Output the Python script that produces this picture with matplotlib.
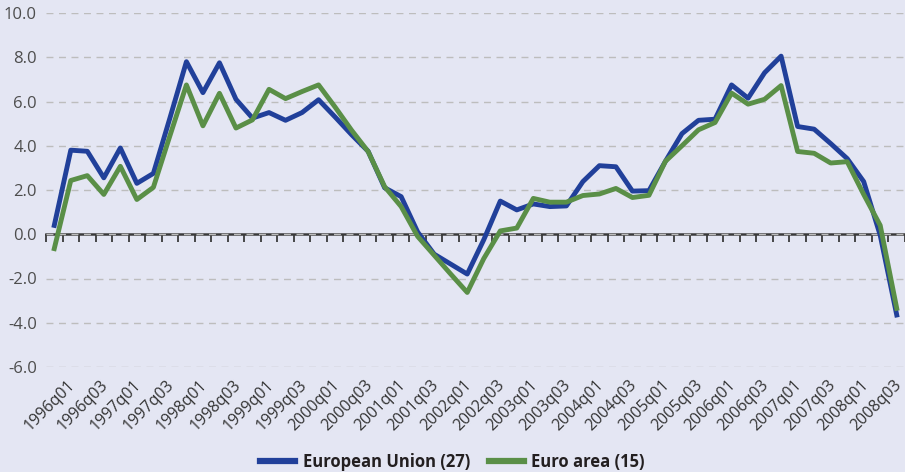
import matplotlib
matplotlib.use("Agg")
import matplotlib.pyplot as plt
import matplotlib.transforms as mtransforms
import numpy as np

plt.rcParams['font.family'] = ['Open Sans', 'DejaVu Sans']

# quarters 1996q1 .. 2008q4
quarters = [f"{y}q{q:02d}" for y in range(1996, 2009) for q in range(1, 5)]

eu27 = [0.4, 3.8, 3.75, 2.55, 3.9, 2.3, 2.75, 5.25, 7.8, 6.4, 7.75, 6.1,
        5.25, 5.5, 5.15, 5.5, 6.08, 5.3, 4.5, 3.75, 2.1, 1.7, 0.1, -0.9,
        -1.35, -1.8, -0.25, 1.5, 1.1, 1.37, 1.25, 1.28, 2.38, 3.1, 3.05, 1.95,
        1.97, 3.3, 4.55, 5.15, 5.2, 6.75, 6.15, 7.3, 8.05, 4.87, 4.75, 4.1,
        3.42, 2.38, -0.05, -3.65]

ea15 = [-0.65, 2.43, 2.65, 1.8, 3.07, 1.57, 2.12, 4.45, 6.75, 4.9, 6.37, 4.8,
        5.17, 6.55, 6.13, 6.45, 6.75, 5.75, 4.7, 3.74, 2.15, 1.25, -0.1, -0.95,
        -1.8, -2.63, -1.1, 0.15, 0.28, 1.62, 1.45, 1.45, 1.75, 1.82, 2.07, 1.66,
        1.76, 3.3, 4.0, 4.72, 5.05, 6.38, 5.88, 6.1, 6.72, 3.74, 3.66, 3.22,
        3.28, 1.8, 0.4, -3.35]

bg = '#e4e6f3'
blue = '#21409a'
green = '#5a8f47'

fig = plt.figure(figsize=(9.05, 4.72), dpi=100, facecolor=bg)
ax = fig.add_axes([46 / 905, 105 / 472, 1 - 46 / 905, 354 / 472])
ax.set_facecolor(bg)

x = np.arange(len(quarters))
ax.plot(x, eu27, color=blue, lw=3.5, label='European Union (27)', zorder=4)
ax.plot(x, ea15, color=green, lw=3.5, label='Euro area (15)', zorder=4)

ymin, ymax = -6, 10
ax.set_ylim(ymin, ymax)
ax.set_xlim(-0.5, len(quarters) - 0.5)

yt = np.arange(-6, 11, 2)
ax.set_yticks(yt)
ax.set_yticklabels([f"{v:.1f}" for v in yt])
ax.tick_params(axis='y', length=0, pad=6.5, labelsize=12, labelcolor='#4d4d4d')
ax.yaxis.grid(True, color='#bdbdbd', linestyle=(0, (5, 4)), lw=1.0)
ax.set_axisbelow(True)

ax.set_xticks(x[::2])
ax.set_xticklabels(quarters[::2], rotation=45, ha='right', rotation_mode='anchor')
ax.tick_params(axis='x', length=0, pad=4, labelsize=11.5, labelcolor='#333333')
shift = mtransforms.ScaledTranslation(13 / 100, -4 / 100, fig.dpi_scale_trans)
for lbl in ax.get_xticklabels():
    lbl.set_transform(lbl.get_transform() + shift)

for s in ax.spines.values():
    s.set_visible(False)

# zero axis with ticks between quarters
zero = ax.secondary_xaxis((0 - ymin) / (ymax - ymin))
zero.set_xticks(np.arange(-0.5, len(quarters), 1))
zero.set_xticklabels([])
zero.tick_params(axis='x', direction='out', length=5.5, width=1.3, color='#3a3a3a')
zero.spines['bottom'].set_color('#3a3a3a')
zero.spines['bottom'].set_linewidth(1.8)

leg = fig.legend(loc='lower center', bbox_to_anchor=(0.5, -0.03), ncol=2,
                 frameon=False, handlelength=2.1, columnspacing=1.1,
                 handletextpad=0.45, prop={'weight': 'bold', 'size': 12})
for h in leg.get_lines():
    h.set_linewidth(4.5)
for t in leg.get_texts():
    t.set_color('#231f20')

fig.savefig('out.png', dpi=100, facecolor=bg)
